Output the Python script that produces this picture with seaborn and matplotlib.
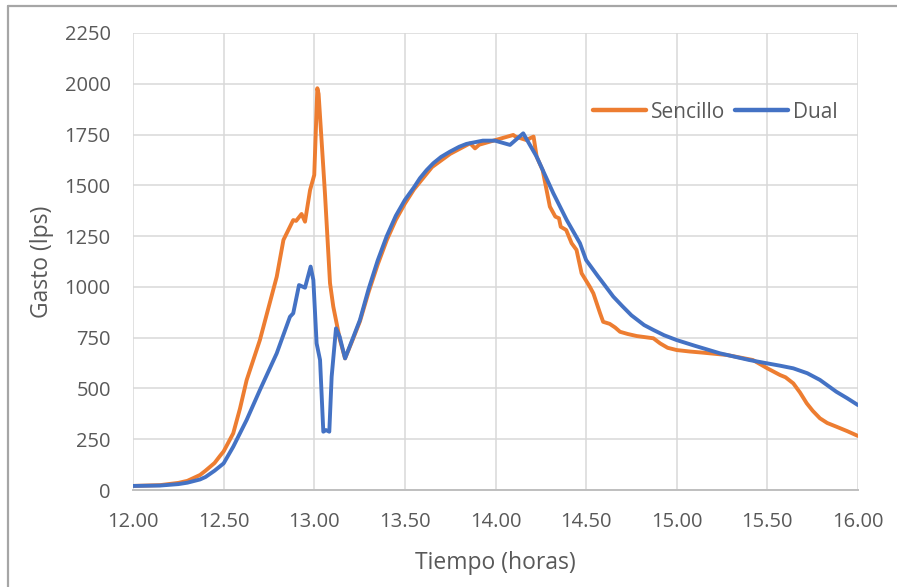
import numpy as np
import pandas as pd
import matplotlib
matplotlib.use("Agg")
import matplotlib.pyplot as plt
from matplotlib.lines import Line2D
import seaborn as sns

# Hydrograph: flow (lps) vs time (hours) for single and dual drainage
t_sencillo = [12.00, 12.15, 12.25, 12.30, 12.37, 12.40, 12.45, 12.48, 12.50, 12.553, 12.59, 12.627,
              12.70, 12.793, 12.83, 12.884, 12.90, 12.93, 12.949, 12.977, 13.00, 13.017,
              13.024, 13.059, 13.087, 13.105, 13.142, 13.17, 13.21, 13.252, 13.30, 13.35, 13.40,
              13.45, 13.50, 13.55, 13.65, 13.75, 13.86, 13.887, 13.91, 14.00, 14.098, 14.11, 14.17,
              14.21, 14.227, 14.26, 14.30, 14.33, 14.35, 14.36, 14.39, 14.42, 14.447,
              14.475, 14.52, 14.54, 14.577, 14.594, 14.63, 14.66, 14.687, 14.73, 14.779, 14.871, 14.908,
              14.95, 15.00, 15.07, 15.147, 15.275, 15.42, 15.50, 15.57, 15.60, 15.643, 15.68, 15.717,
              15.75, 15.79, 15.83, 15.88, 15.94, 16.00]
q_sencillo = [20, 24, 35, 45, 74, 95, 133, 168, 190, 279, 400, 541,
              738, 1050, 1231, 1329, 1325, 1359, 1321, 1477, 1551, 1978,
              1950, 1461, 1018, 903, 738, 648, 735, 830, 975, 1110, 1230,
              1330, 1410, 1480, 1590, 1655, 1707, 1682, 1700, 1723, 1748, 1740, 1723,
              1740, 1641, 1575, 1395, 1346, 1338, 1296, 1280, 1215, 1182,
              1067, 1001, 968, 870, 828, 818, 800, 779, 768, 758, 747, 722,
              700, 689, 682, 676, 665, 640, 599, 566, 555, 525, 480, 427,
              390, 353, 330, 312, 290, 266]

t_dual = [12.00, 12.15, 12.25, 12.30, 12.37, 12.40, 12.45, 12.50, 12.553, 12.627,
          12.70, 12.793, 12.866, 12.884, 12.916, 12.949, 12.98, 12.995, 13.013, 13.032,
          13.05, 13.065, 13.083, 13.096, 13.12, 13.14, 13.17, 13.21, 13.252, 13.30, 13.35,
          13.40, 13.45, 13.50, 13.55, 13.583, 13.62, 13.657, 13.70, 13.749, 13.80, 13.84, 13.93,
          13.997, 14.08, 14.153, 14.227, 14.319, 14.393, 14.466, 14.50, 14.567, 14.58, 14.65,
          14.70, 14.75, 14.82, 14.871, 14.93, 15.00, 15.10, 15.238, 15.40, 15.496, 15.57,
          15.643, 15.72, 15.79, 15.88, 15.94, 16.00]
q_dual = [20, 22, 29, 36, 52, 64, 95, 131, 213, 345,
          492, 673, 853, 870, 1009, 996, 1100, 1034, 722, 640,
          287, 295, 287, 558, 796, 755, 648, 740, 837, 990, 1130,
          1250, 1350, 1428, 1490, 1535, 1575, 1609, 1640, 1666, 1690, 1704, 1720,
          1720, 1699, 1756, 1641, 1461, 1329, 1215, 1132, 1050, 1035, 952,
          905, 860, 812, 788, 762, 738, 710, 673, 640, 624, 612,
          599, 575, 542, 484, 452, 418]

series_names = ["Sencillo", "Dual"]
series_colors = ["#ED7D31", "#4472C4"]
x_ticks = [12.0, 12.5, 13.0, 13.5, 14.0, 14.5, 15.0, 15.5, 16.0]
y_ticks = [0, 250, 500, 750, 1000, 1250, 1500, 1750, 2000, 2250]

df = pd.concat([
    pd.DataFrame({"Tiempo": t_sencillo, "Gasto": q_sencillo, "Serie": series_names[0]}),
    pd.DataFrame({"Tiempo": t_dual, "Gasto": q_dual, "Serie": series_names[1]}),
], ignore_index=True)

sns.set_style("white")
plt.rcParams["font.family"] = ["Open Sans", "DejaVu Sans"]
text_color = "#595959"

W, H = 897, 587
fig = plt.figure(figsize=(W / 100, H / 100), dpi=100)
ax = fig.add_axes([133 / W, (H - 490) / H, 725 / W, 457 / H])

sns.lineplot(data=df, x="Tiempo", y="Gasto", hue="Serie", hue_order=series_names,
             palette=dict(zip(series_names, series_colors)), sort=False,
             linewidth=2.8, ax=ax, legend=True)
for ln in ax.get_lines():
    ln.set_solid_joinstyle("round")
    ln.set_solid_capstyle("round")

ax.set_xlim(12, 16)
ax.set_ylim(0, 2250)
ax.set_xticks(x_ticks)
ax.set_xticklabels([f"{v:.2f}" for v in x_ticks])
ax.set_yticks(y_ticks)
ax.set_yticklabels([str(v) for v in y_ticks])
ax.grid(True, color="#D9D9D9", linewidth=1.1)
ax.set_axisbelow(True)
for side in ["top", "right", "left"]:
    ax.spines[side].set_visible(False)
ax.spines["bottom"].set_color("#BFBFBF")
ax.spines["bottom"].set_linewidth(1.4)
ax.tick_params(axis="both", length=0, labelsize=14.5, colors=text_color)
ax.tick_params(axis="y", pad=16)
ax.tick_params(axis="x", pad=16)

ax.set_xlabel("Tiempo (horas)", fontsize=16.5, color=text_color, va="center")
ax.xaxis.set_label_coords(0.5, (490 - 563) / 457)
ax.set_ylabel("Gasto (lps)", fontsize=16.5, color=text_color, va="center")
ax.yaxis.set_label_coords((42 - 133) / 725, 0.5)

handles, labels = ax.get_legend_handles_labels()
leg = ax.legend(handles, labels, loc="center left",
                bbox_to_anchor=((593 - 133) / 725, (490 - 112) / 457),
                ncol=2, frameon=False, fontsize=15, handlelength=2.55,
                handletextpad=0.25, columnspacing=0.45, borderpad=0,
                borderaxespad=0)
for txt in leg.get_texts():
    txt.set_color(text_color)
for lh in leg.get_lines():
    lh.set_linewidth(3.2)

# chart frame (top and left edges)
fig.add_artist(Line2D([7.5 / W, 1], [1 - 5.5 / H, 1 - 5.5 / H], transform=fig.transFigure,
                      color="#A6A6A6", linewidth=1.6))
fig.add_artist(Line2D([7.5 / W, 7.5 / W], [0, 1 - 5.5 / H], transform=fig.transFigure,
                      color="#A6A6A6", linewidth=1.6))

fig.savefig("out.png", dpi=100)
